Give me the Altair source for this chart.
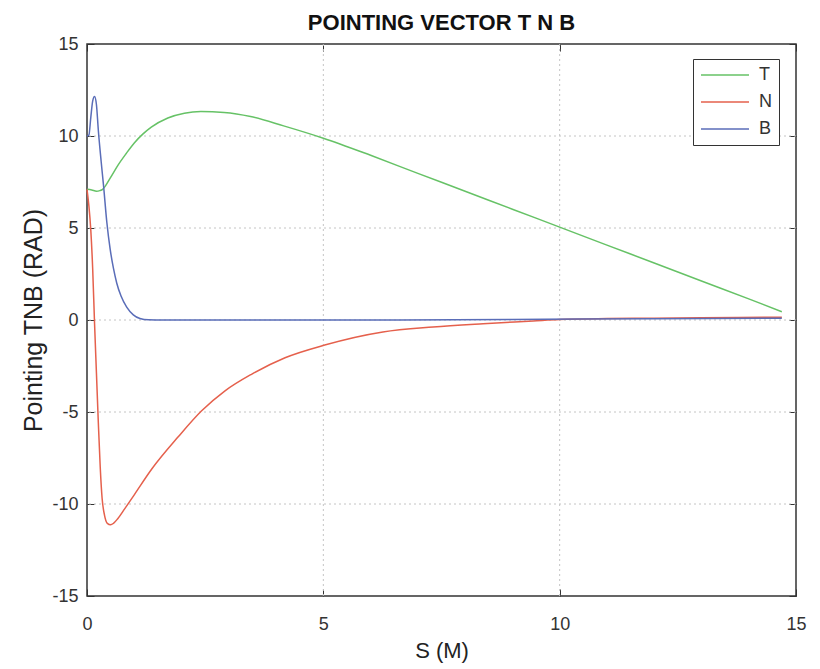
import altair as alt
import pandas as pd

# ---- data ----
T_s = [0, 0.1, 0.2, 0.27, 0.33, 0.38, 0.5, 0.66, 0.83, 1.0, 1.18, 1.36, 1.71, 2.06,
       2.41, 2.9, 3.46, 4.16, 5.0, 6, 7, 8, 9, 10, 11, 12, 13, 14, 14.7]
T_v = [7.1, 7.07, 7.0, 7.03, 7.1, 7.25, 7.75, 8.43, 9.05, 9.62, 10.1, 10.48, 10.98,
       11.24, 11.33, 11.28, 11.06, 10.55, 9.88, 8.95, 7.97, 7.0, 6.02, 5.05, 4.07,
       3.1, 2.12, 1.15, 0.45]

N_s = [0, 0.04, 0.08, 0.12, 0.16, 0.2, 0.24, 0.28, 0.32, 0.37, 0.43, 0.5, 0.56, 0.65,
       0.8, 1.0, 1.37, 1.93, 2.42, 2.92, 3.48, 4.19, 5.03, 6.26, 7.32, 8.38, 9.44,
       10.0, 11.0, 12.0, 13.0, 14.7]
N_v = [7.1, 6.2, 4.9, 2.8, -0.2, -2.9, -5.6, -8.0, -9.7, -10.6, -11.05, -11.13, -11.05,
       -10.8, -10.25, -9.5, -8.1, -6.35, -4.95, -3.85, -2.95, -2.05, -1.36, -0.65,
       -0.38, -0.2, -0.05, 0.03, 0.08, 0.1, 0.12, 0.15]

B_s = [0, 0.04, 0.08, 0.12, 0.16, 0.2, 0.24, 0.3, 0.35, 0.42, 0.49, 0.56, 0.63, 0.72,
       0.84, 0.98, 1.12, 1.3, 1.6, 3, 6, 9, 12, 14.7]
B_v = [10.0, 10.05, 11.0, 11.9, 12.15, 11.7, 10.3, 8.6, 7.3, 5.3, 3.85, 2.8, 2.0, 1.3,
       0.7, 0.28, 0.08, 0.01, 0.0, 0.0, 0.0, 0.03, 0.07, 0.1]

series_names = ["T", "N", "B"]
series_colors = ["#66c266", "#e5604c", "#5a6db8"]

x_ticks = [0, 5, 10, 15]
y_ticks = [-15, -10, -5, 0, 5, 10, 15]
grid_x = [5, 10]
grid_y = [-10, -5, 0, 5, 10]

rows = []
for name, xs_, ys_ in (("T", T_s, T_v), ("N", N_s, N_v), ("B", B_s, B_v)):
    for i, (a, b) in enumerate(zip(xs_, ys_)):
        rows.append({"series": name, "s": a, "v": b, "order": i})
df = pd.DataFrame(rows)

FONT = "Liberation Sans"
xscale = alt.Scale(domain=[0, 15], nice=False, zero=False)
yscale = alt.Scale(domain=[-15, 15], nice=False, zero=False)

grid_style = dict(color="#c4c4c4", strokeDash=[2, 3], strokeWidth=1)
gx = alt.Chart(pd.DataFrame({"g": grid_x})).mark_rule(**grid_style).encode(
    x=alt.X("g:Q", scale=xscale, axis=None))
gy = alt.Chart(pd.DataFrame({"g": grid_y})).mark_rule(**grid_style).encode(
    y=alt.Y("g:Q", scale=yscale, axis=None))

lines = alt.Chart(df).mark_line(strokeWidth=1.5, interpolate="monotone").encode(
    x=alt.X("s:Q", scale=xscale,
            axis=alt.Axis(values=x_ticks, orient="bottom", offset=-7, tickSize=7,
                          tickColor="#333", tickWidth=1, domain=False, grid=False,
                          labelPadding=19, labelFontSize=18, labelColor="#333",
                          labelFont=FONT, labelExpr="'' + datum.value",
                          title="S (M)", titleFont=FONT,
                          titleFontSize=22, titleFontWeight="normal",
                          titleColor="#222", titlePadding=7, labelFlush=False)),
    y=alt.Y("v:Q", scale=yscale,
            axis=alt.Axis(values=y_ticks, orient="left", offset=-7, tickSize=7,
                          tickColor="#333", tickWidth=1, domain=False, grid=False,
                          labelPadding=9, labelFontSize=18, labelColor="#333",
                          labelFont=FONT, labelExpr="'' + datum.value",
                          title="Pointing TNB (RAD)", titleFont=FONT,
                          titleFontSize=25, titleFontWeight="normal",
                          titleColor="#222", titlePadding=5, labelFlush=False)),
    color=alt.Color("series:N",
                    scale=alt.Scale(domain=series_names, range=series_colors),
                    legend=alt.Legend(title=None, orient="none", legendX=606,
                                      legendY=15, symbolType="stroke",
                                      symbolSize=2304, symbolStrokeWidth=1.5,
                                      labelFontSize=18, labelFont=FONT,
                                      labelColor="#333", labelOffset=9,
                                      strokeColor="#333", fillColor="white",
                                      padding=7, rowPadding=9, clipHeight=18)),
    order="order:Q",
)

ghost = alt.Chart(df).mark_line(opacity=0).encode(
    x=alt.X("s:Q", scale=xscale,
            axis=alt.Axis(values=x_ticks, orient="top", offset=-7, tickSize=7,
                          tickColor="#333", domain=False, grid=False,
                          labels=False, title=None)),
    y=alt.Y("v:Q", scale=yscale,
            axis=alt.Axis(values=y_ticks, orient="right", offset=-7, tickSize=7,
                          tickColor="#333", domain=False, grid=False,
                          labels=False, title=None)),
    detail="series:N",
)

chart = alt.layer(gx, gy, lines, ghost).resolve_axis(
    x="independent", y="independent"
).properties(
    width=709, height=552,
    autosize=alt.AutoSizeParams(type="none"),
    padding={"left": 87, "top": 44, "right": 24, "bottom": 73},
    title=alt.TitleParams("POINTING VECTOR T N B", font=FONT, fontSize=22,
                          fontWeight="bold", color="#111", anchor="middle",
                          offset=0),
    background="white",
).configure_view(stroke="#333", strokeWidth=1.5)

chart.save("out.html", embed_options={"renderer": "svg", "actions": False})
